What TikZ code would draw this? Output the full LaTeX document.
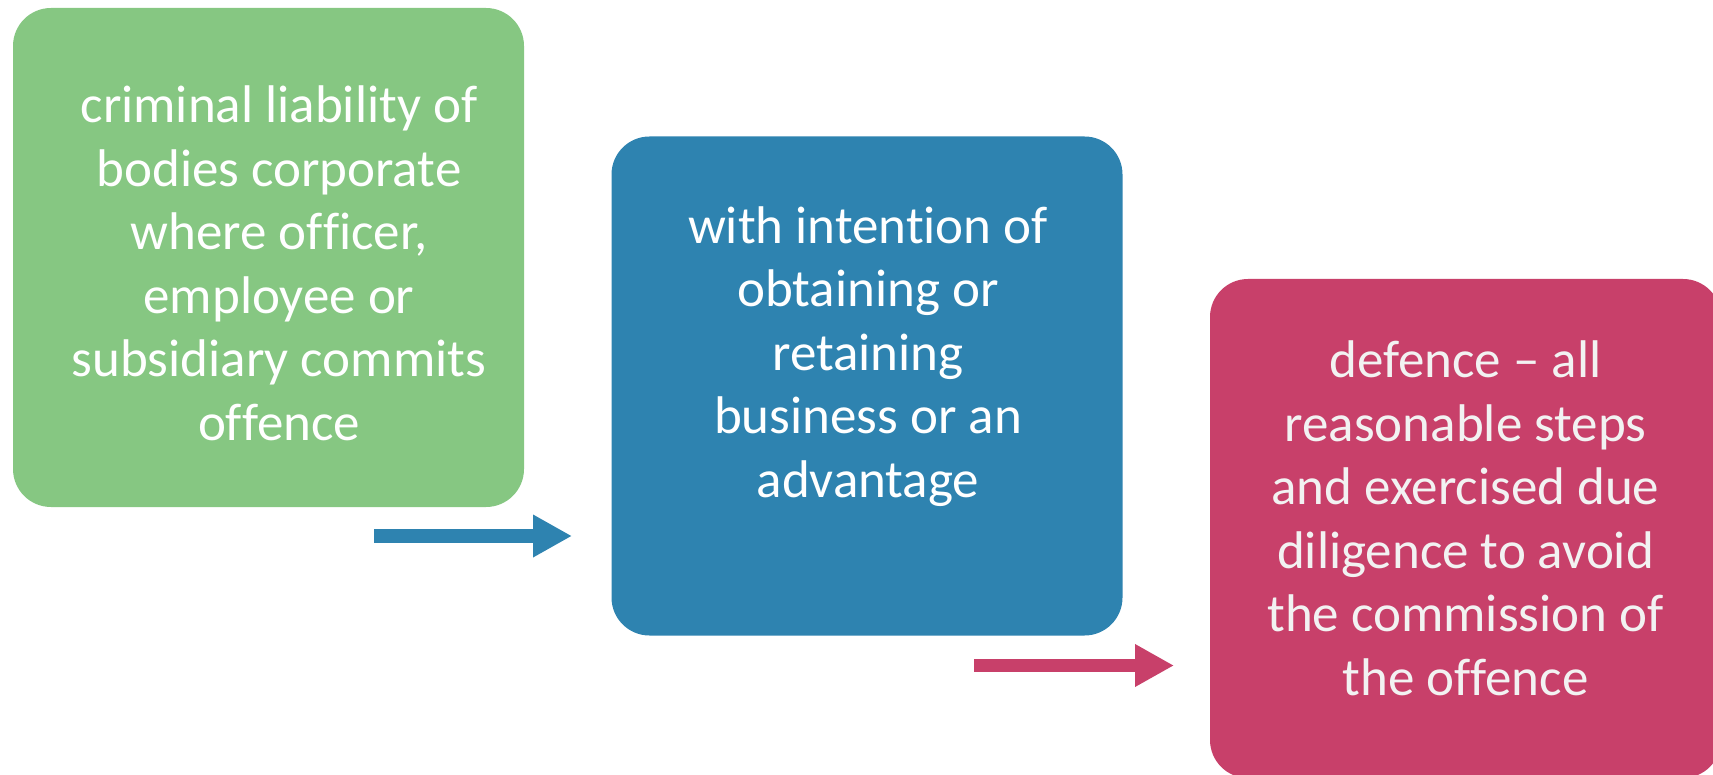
\documentclass[tikz,border=0pt]{standalone}
\usepackage{fontspec}
\setmainfont{Carlito}
\usetikzlibrary{arrows.meta}

% zero kern that keeps Carlito from joining letter pairs such as ti, ff, fi
\newcommand{\nojoin}{\kern0pt{}}

\definecolor{boxgreen}{HTML}{86C782}
\definecolor{boxblue}{HTML}{2E83B0}
\definecolor{boxpink}{HTML}{C8406A}
\definecolor{softwhite}{HTML}{F2F2F2}

\tikzset{
  stepbox/.style={rectangle, rounded corners=38pt, draw=none,
    minimum width=511pt, minimum height=499pt, inner sep=0pt},
  steptext/.style={align=center, anchor=base, inner sep=0pt,
    font=\fontsize{53}{63.5}\selectfont},
  flowarrow/.style={line width=13.5pt, -{Triangle[width=40pt,length=39pt]}},
}

\begin{document}
\begin{tikzpicture}[x=1pt, y=-1pt]
  \clip (0,0) rectangle (1713,775);

  % three coloured steps
  \node[stepbox, fill=boxgreen] (liab) at (268.5,257.5) {};
  \node[stepbox, fill=boxblue]  (intent) at (867,386) {};
  \node[stepbox, fill=boxpink]  (defence) at (1465.5,528.5) {};

  % their texts (anchored at the baseline of the last line)
  \node[steptext, text=white] (liabtext) at (279,440)
    {criminal liability of\\bodies corporate\\where of\nojoin f\nojoin icer,\\employee or\\subsidiary commits\\of\nojoin fence};
  \node[steptext, text=white] (intenttext) at (868,497)
    {with intent\nojoin ion of\\obtaining or\\retaining\\business or an\\advantage};
  \node[steptext, text=softwhite] (defencetext) at (1465.5,695)
    {defence – all\\reasonable steps\\and exercised due\\diligence to avoid\\the commission of\\the of\nojoin fence};

  % block arrows leading from one step to the next
  \coordinate (arrowAfrom) at (374,536);
  \coordinate (arrowAto)   at (572,536);
  \coordinate (arrowBfrom) at (974,665.5);
  \coordinate (arrowBto)   at (1174,665.5);
  \draw[flowarrow, draw=boxblue, fill=boxblue] (arrowAfrom) -- (arrowAto);
  \draw[flowarrow, draw=boxpink, fill=boxpink] (arrowBfrom) -- (arrowBto);
\end{tikzpicture}
\end{document}
